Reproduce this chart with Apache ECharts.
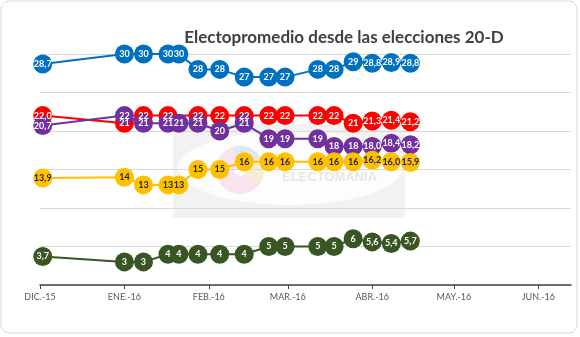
<!DOCTYPE html>
<html>
<head>
<meta charset="utf-8">
<script src="https://cdn.jsdelivr.net/npm/echarts@6/dist/echarts.min.js"></script>
<style>
  html, body { margin: 0; padding: 0; background: #ffffff; }
  #chart { width: 580px; height: 337px; }
</style>
</head>
<body>
<div id="chart"></div>
<script>
// Poll dates (Electopromedio updates since the 20-D general election)
var dates = ['2015-12-02', '2016-01-01', '2016-01-08', '2016-01-17', '2016-01-21', '2016-01-28',
             '2016-02-05', '2016-02-14', '2016-02-23', '2016-02-29', '2016-03-12', '2016-03-18',
             '2016-03-25', '2016-04-01', '2016-04-08', '2016-04-15'];

// Vote estimate (%) per party; null where a party has no point on that date
var pp        = [28.7, 30, 30, 30, 30, 28, 28, 27, 27, 27, 28, 28, 29, 28.8, 28.9, 28.8];
var psoe      = [22.0, 21, 22, 22, null, 22, 22, 22, 22, 22, 22, 22, 21, 21.3, 21.4, 21.2];
var podemos   = [20.7, 22, 21, 21, 21, 21, 20, 21, 19, 19, 19, 18, 18, 18.0, 18.4, 18.2];
var cs        = [13.9, 14, 13, 13, 13, 15, 15, 16, 16, 16, 16, 16, 16, 16.2, 16.0, 15.9];
var iu        = [3.7, 3, 3, 4, 4, 4, 4, 4, 5, 5, 5, 5, 6, 5.6, 5.4, 5.7];

// Decimals shown in each date's labels
var decimals = [1, 0, 0, 0, 0, 0, 0, 0, 0, 0, 0, 0, 0, 1, 1, 1];

// Month ticks on the time axis
var monthTicks = ['2015-12-01', '2016-01-01', '2016-02-01', '2016-03-01', '2016-04-01', '2016-05-01', '2016-06-01'];
var monthLabels = ['DIC.-15', 'ENE.-16', 'FEB.-16', 'MAR.-16', 'ABR.-16', 'MAY.-16', 'JUN.-16'];

var axisStart = '2015-12-01';
var axisEnd = '2016-06-13';

function ts(d) { return Date.parse(d + 'T00:00:00Z'); }

var tickValues = monthTicks.map(ts);
var labelByTs = {};
tickValues.forEach(function (t, i) { labelByTs[t] = monthLabels[i]; });

function makeSeries(name, values, color, textColor) {
  return {
    name: name,
    type: 'line',
    data: values.map(function (v, i) { return [ts(dates[i]), v, decimals[i]]; }),
    connectNulls: true,
    lineStyle: { color: color, width: 2 },
    itemStyle: { color: color },
    symbol: 'circle',
    symbolSize: 19,
    animation: false,
    label: {
      show: true,
      position: 'inside',
      color: textColor,
      fontFamily: 'Lato, sans-serif',
      fontSize: 9,
      fontWeight: 'bold',
      formatter: function (p) {
        return p.value[1].toFixed(p.value[2]).replace('.', ',');
      }
    },
    emphasis: { disabled: true }
  };
}

var chart = echarts.init(document.getElementById('chart'), null, { renderer: 'canvas' });

chart.setOption({
  backgroundColor: '#ffffff',
  animation: false,
  title: {
    text: 'Electopromedio desde las elecciones 20-D',
    left: 339,
    top: 24,
    textAlign: 'center',
    textStyle: { fontFamily: 'Lato, sans-serif', fontSize: 17, fontWeight: 'bold', color: '#404040' }
  },
  graphic: [
    {
      type: 'rect', silent: true, z: -10,
      shape: { x: 1, y: 1, width: 576, height: 332, r: 8 },
      style: { fill: '#ffffff', stroke: '#d9d9d9', lineWidth: 1 }
    },
    {
      type: 'rect', silent: true, z: -9,
      shape: { x: 173, y: 124, width: 232, height: 94 },
      style: { fill: '#f2f2f2' }
    },
    {
      type: 'ellipse', silent: true, z: -8,
      shape: { cx: 290, cy: 168, rx: 112, ry: 37 },
      style: { fill: '#ffffff', opacity: 0.85 }
    },
    {
      type: 'sector', silent: true, z: -7,
      shape: { cx: 240, cy: 170, r0: 6, r: 24, startAngle: 0, endAngle: Math.PI * 2 },
      style: { fill: '#f7dde8', opacity: 0.8 }
    },
    {
      type: 'sector', silent: true, z: -7,
      shape: { cx: 240, cy: 170, r0: 6, r: 24, startAngle: -Math.PI * 0.6, endAngle: -Math.PI * 0.2 },
      style: { fill: '#d8e8f6', opacity: 0.9 }
    },
    {
      type: 'sector', silent: true, z: -7,
      shape: { cx: 240, cy: 170, r0: 6, r: 24, startAngle: -Math.PI * 0.2, endAngle: Math.PI * 0.2 },
      style: { fill: '#f3efcf', opacity: 0.9 }
    },
    {
      type: 'text', silent: true, z: -6,
      style: { x: 282, y: 171, text: 'ELECTOMANIA', fill: '#e6e6e6',
               font: 'bold 13px "Liberation Sans", sans-serif' }
    }
  ],
  grid: { left: 40, right: 9, top: 54, bottom: 52, containLabel: false },
  xAxis: {
    type: 'value',
    min: ts(axisStart),
    max: ts(axisEnd),
    splitLine: { show: false },
    axisLine: { show: true, lineStyle: { color: '#404040', width: 1.5 } },
    axisTick: { show: true, length: 4, customValues: tickValues, lineStyle: { color: '#404040' } },
    axisLabel: {
      customValues: tickValues,
      margin: 8,
      color: '#595959',
      fontFamily: 'Lato, sans-serif',
      fontSize: 9,
      formatter: function (v) { return labelByTs[v] || ''; }
    }
  },
  yAxis: {
    type: 'value',
    min: 0,
    max: 30,
    interval: 5,
    axisLine: { show: false },
    axisTick: { show: false },
    axisLabel: { show: false },
    splitLine: { show: true, lineStyle: { color: '#d9d9d9', width: 1 } }
  },
  series: [
    makeSeries('PP', pp, '#0070c0', '#ffffff'),
    makeSeries('PSOE', psoe, '#ff0000', '#ffffff'),
    makeSeries('Podemos', podemos, '#7030a0', '#ffffff'),
    makeSeries('Ciudadanos', cs, '#ffc000', '#262626'),
    makeSeries('IU', iu, '#375623', '#ffffff')
  ]
});
</script>
</body>
</html>
